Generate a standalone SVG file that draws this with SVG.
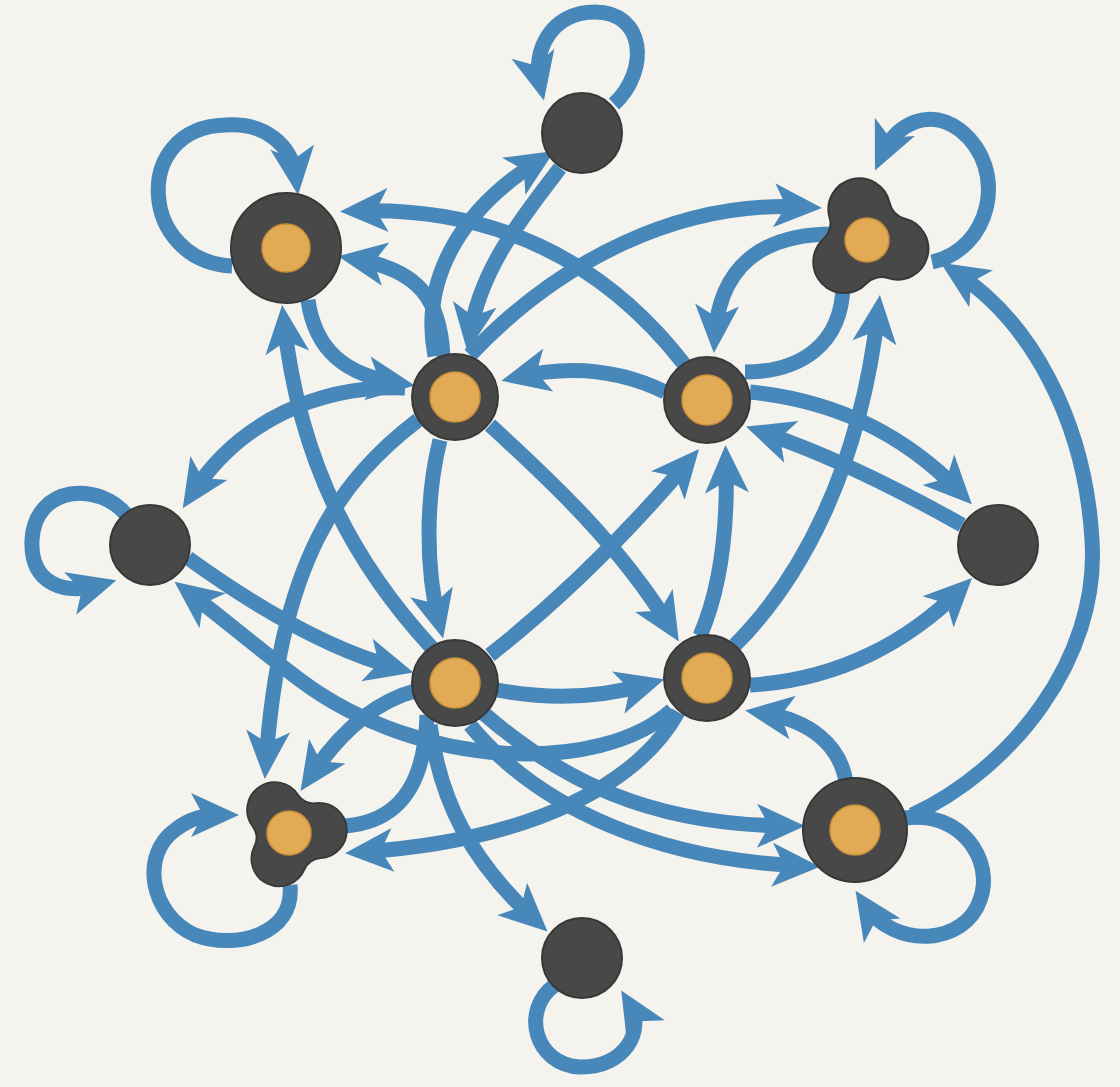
<svg xmlns="http://www.w3.org/2000/svg" xmlns:xlink="http://www.w3.org/1999/xlink" width="1120" height="1087" viewBox="0 0 1120 1087">
<defs>
<marker id="ah" markerUnits="userSpaceOnUse" markerWidth="56" markerHeight="48" viewBox="0 0 56 48" refX="35" refY="24" orient="auto" overflow="visible">
<path d="M52 24 L4 2 L16 24 L4 46 Z" fill="#4787b9"/>
</marker>
<path id="trefoil" d="M-29.98 -29.71 A30 30 0 1 1 29.98 -29.71 A20 20 0 0 0 40.72 -11.11 A30 30 0 1 1 10.74 40.82 A20 20 0 0 0 -10.74 40.82 A30 30 0 1 1 -40.72 -11.11 A20 20 0 0 0 -29.98 -29.71 Z"/>
</defs>
<style>
.e{fill:none;stroke:#4787b9;stroke-width:15;stroke-linecap:butt}
.a{marker-end:url(#ah)}
.dk{fill:#484848;stroke:#383838;stroke-width:2}
.or{fill:#e3aa55;stroke:#c8903b;stroke-width:1.5}
</style>
<rect width="1120" height="1087" fill="#f5f3ed"/>
<g id="connectors">
<path class="e a" d="M614 104 C650 70 645 12 595 12 C552 12 532 50 540 84"/>
<path class="e a" d="M232 266 C140 262 130 128 225 125 C265 122 292 145 296 178"/>
<path class="e a" d="M932 262 C990 250 1010 170 960 130 C930 108 897 122 882 155"/>
<path class="e a" d="M128 517 C100 480 35 485 32 540 C30 585 65 595 100 585"/>
<path class="e a" d="M290 885 C295 935 235 950 195 935 C150 915 140 855 175 830 C190 818 205 815 222 815"/>
<path class="e a" d="M905 818 C960 810 995 860 980 900 C965 945 895 950 865 905"/>
<path class="e a" d="M555 985 C520 1010 535 1065 580 1067 C625 1068 645 1030 630 1005"/>
<path class="e a" d="M684 364 Q560 205 357 211"/>
<path class="e a" d="M443 356 C440 300 420 270 355 259"/>
<path class="e a" d="M435 356 C420 280 460 210 540 160"/>
<path class="e a" d="M560 168 C520 220 480 270 470 335"/>
<path class="e a" d="M308 300 C315 350 345 375 398 383"/>
<path class="e a" d="M405 388 C320 385 240 420 192 494"/>
<path class="e a" d="M432 648 C360 570 300 470 284 322"/>
<path class="e a" d="M440 440 C425 500 426 570 439 622"/>
<path class="e a" d="M490 425 C550 480 620 545 670 627"/>
<path class="e a" d="M490 655 C560 600 630 530 688 462"/>
<path class="e a" d="M700 636 C720 590 728 530 726 462"/>
<path class="e a" d="M665 392 C620 370 570 365 518 377"/>
<path class="e a" d="M470 355 C560 260 680 200 805 207"/>
<path class="e a" d="M840 234 C770 232 720 260 715 336"/>
<path class="e" d="M745 372 C800 372 842 345 843 285"/>
<path class="e a" d="M735 645 C800 580 860 470 878 312"/>
<path class="e a" d="M912 815 C1010 770 1100 660 1092 540 C1085 420 1030 320 955 272"/>
<path class="e a" d="M750 392 C830 400 900 430 960 492"/>
<path class="e a" d="M962 525 C900 490 830 455 762 432"/>
<path class="e a" d="M750 685 C840 680 910 640 960 590"/>
<path class="e a" d="M497 690 C550 700 600 698 648 684"/>
<path class="e a" d="M846 782 C840 745 810 720 762 713"/>
<path class="e a" d="M482 712 C560 780 650 825 788 826"/>
<path class="e a" d="M470 725 C540 810 660 860 803 866"/>
<path class="e a" d="M678 712 C640 780 540 840 362 852"/>
<path class="e a" d="M672 710 C600 775 420 770 300 680 C260 650 225 620 188 592"/>
<path class="e a" d="M188 558 C260 610 330 650 397 668"/>
<path class="e a" d="M418 420 C340 480 280 560 266 762"/>
<path class="e a" d="M418 690 C380 700 345 725 310 777"/>
<path class="e" d="M345 826 C395 822 425 790 427 715"/>
<path class="e a" d="M430 725 C440 800 470 860 535 920"/>
</g>
<g id="node-t"><circle class="dk" cx="582" cy="133" r="40"/></g>
<g id="node-tl"><circle class="dk" cx="286" cy="248" r="55"/><circle class="or" cx="286" cy="248" r="24"/></g>
<g id="node-tr"><use xlink:href="#trefoil" href="#trefoil" class="dk" transform="translate(867 240) rotate(-14) scale(1.03)"/><circle class="or" cx="867" cy="240" r="22"/></g>
<g id="node-ctl"><circle class="dk" cx="455" cy="397" r="43"/><circle class="or" cx="455" cy="397" r="25"/></g>
<g id="node-ctr"><circle class="dk" cx="707" cy="400" r="43"/><circle class="or" cx="707" cy="400" r="25"/></g>
<g id="node-l"><circle class="dk" cx="150" cy="545" r="40"/></g>
<g id="node-r"><circle class="dk" cx="998" cy="545" r="40"/></g>
<g id="node-cbl"><circle class="dk" cx="455" cy="683" r="43"/><circle class="or" cx="455" cy="683" r="25"/></g>
<g id="node-cbr"><circle class="dk" cx="707" cy="678" r="43"/><circle class="or" cx="707" cy="678" r="25"/></g>
<g id="node-bl"><use xlink:href="#trefoil" href="#trefoil" class="dk" transform="translate(291 833) rotate(-35) scale(0.92)"/><circle class="or" cx="289" cy="833" r="22"/></g>
<g id="node-br"><circle class="dk" cx="855" cy="830" r="52"/><circle class="or" cx="855" cy="830" r="25"/></g>
<g id="node-b"><circle class="dk" cx="582" cy="958" r="40"/></g>
</svg>
